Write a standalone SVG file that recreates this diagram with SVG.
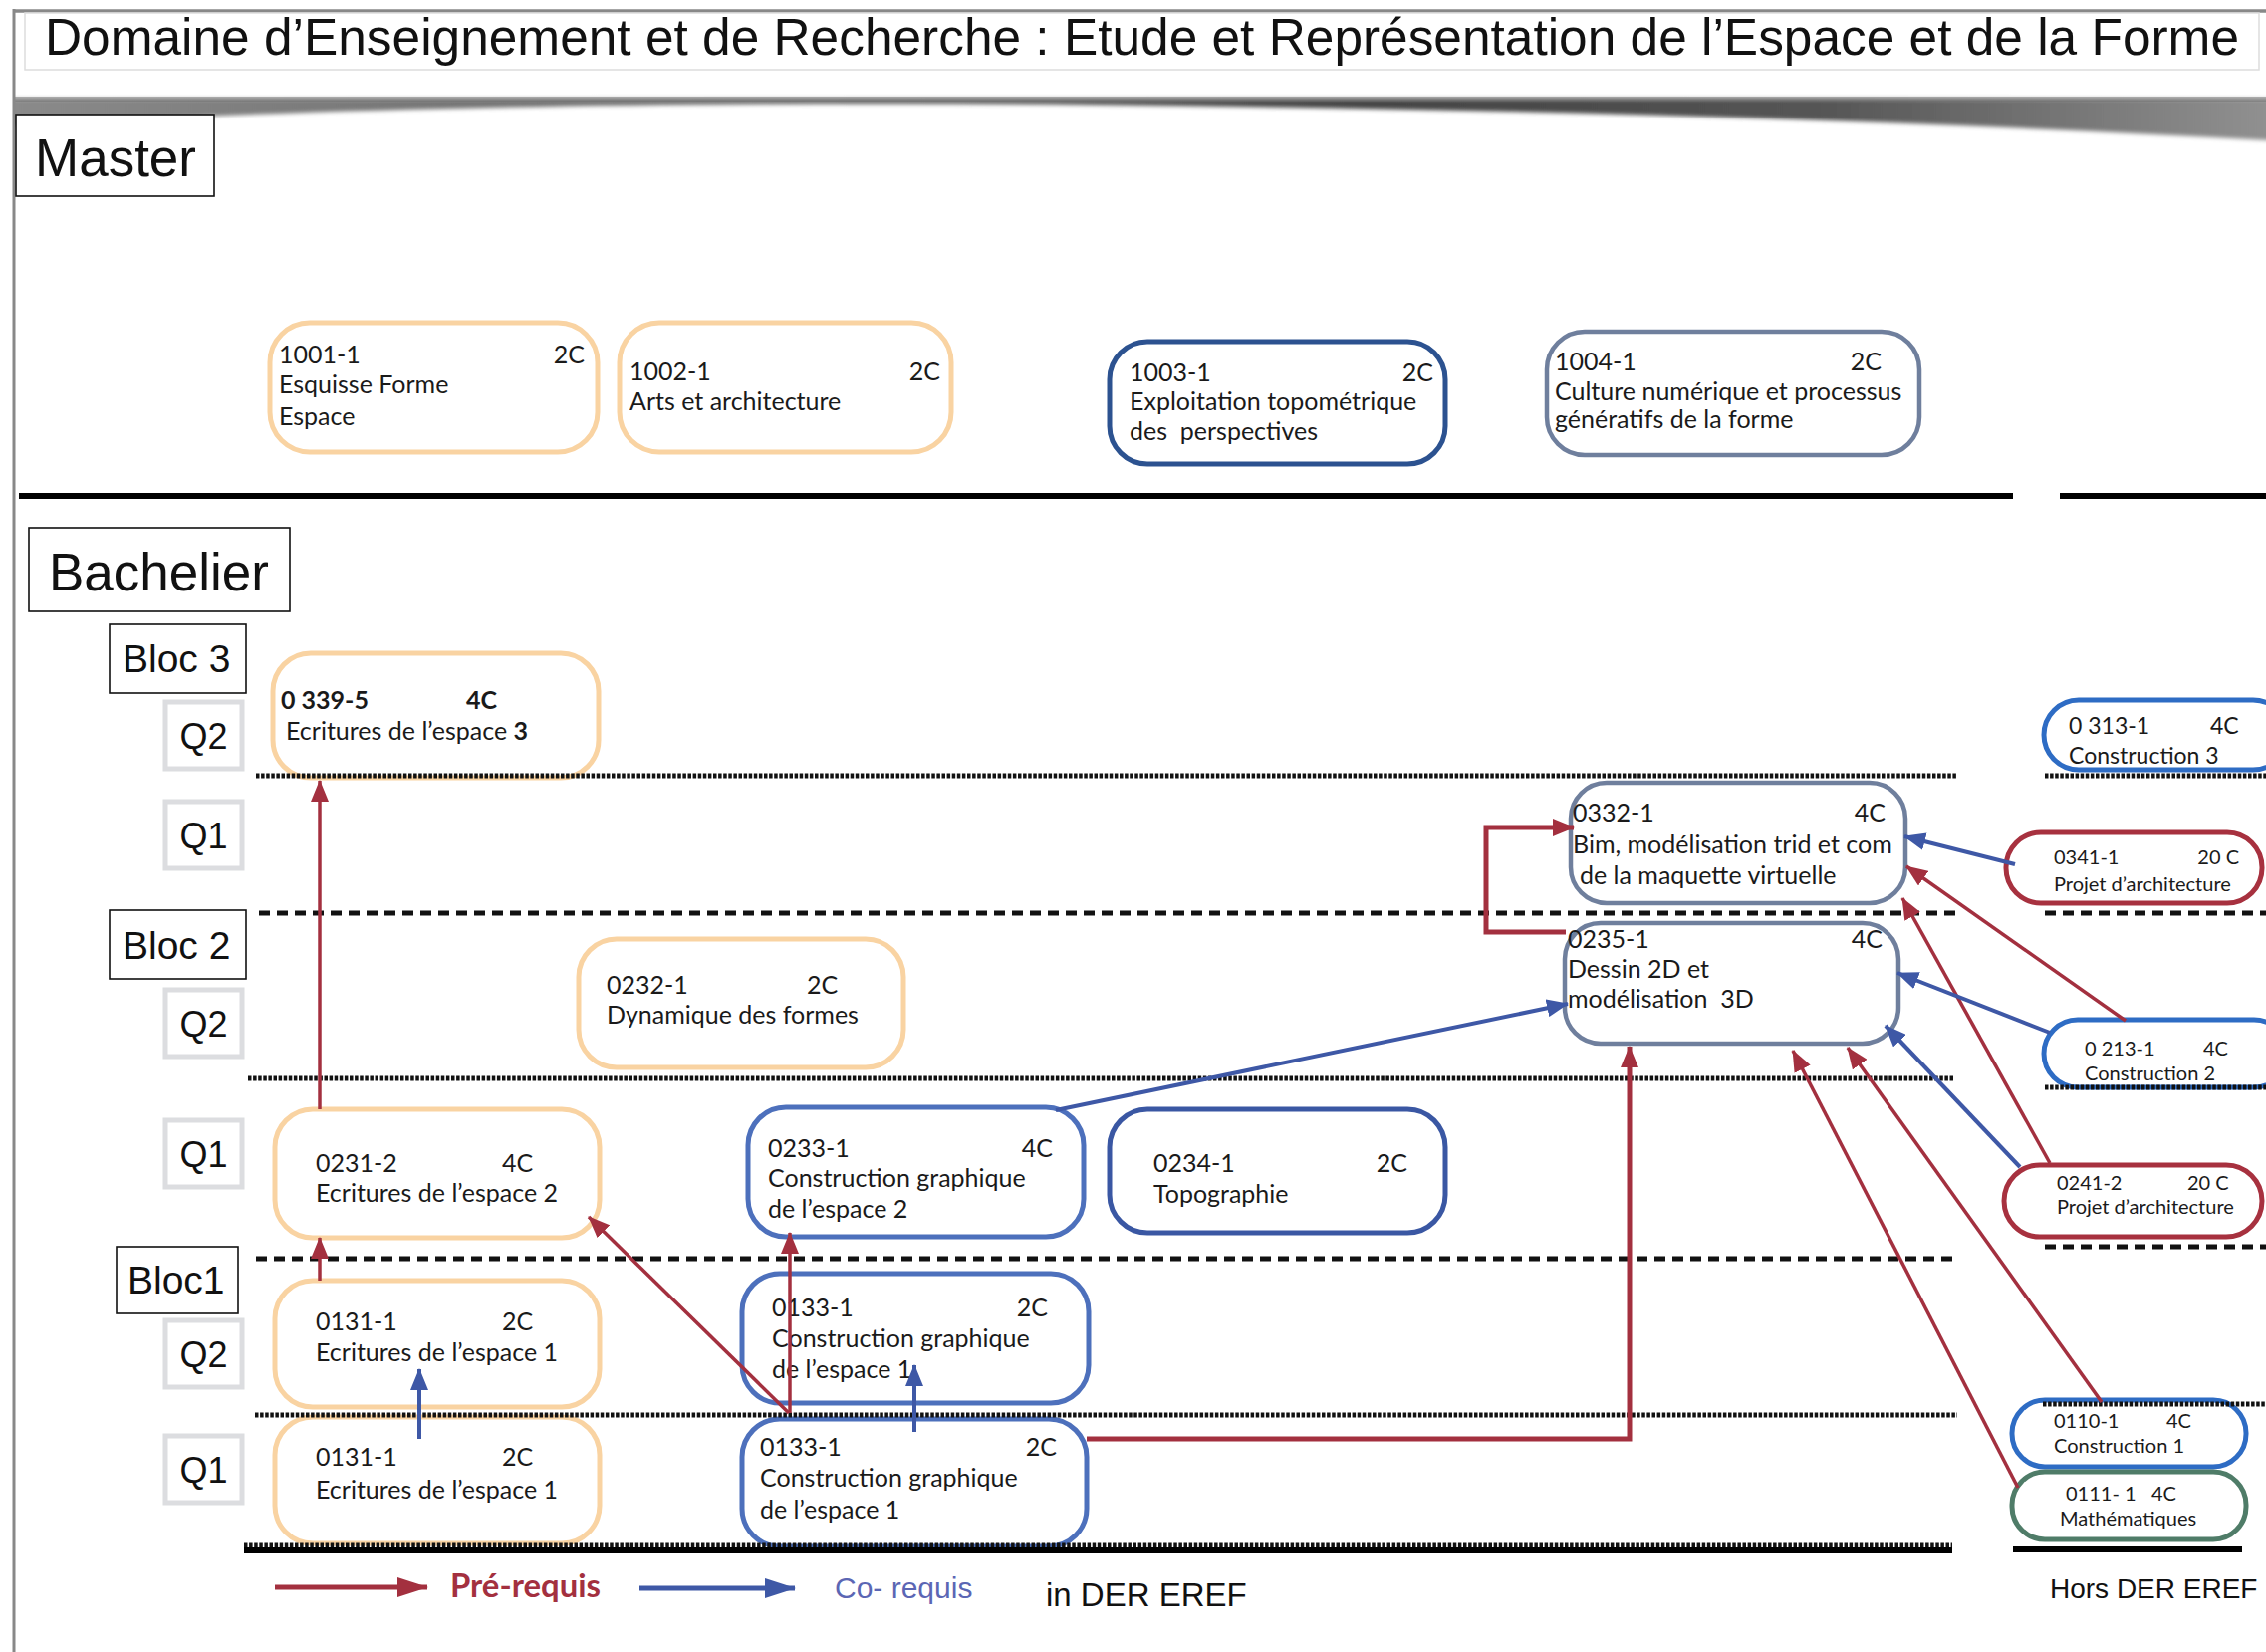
<svg xmlns="http://www.w3.org/2000/svg" width="2275" height="1659" viewBox="0 0 2275 1659">
<style>
.lbl{font-family:"Liberation Sans",Arial,sans-serif;fill:#111}
.nt{font-family:Lato,"Noto Sans",sans-serif;font-size:25px;fill:#1a1a1a}
.sm{font-size:20px}
.md{font-size:23px}
.box{fill:#fff;stroke:#111;stroke-width:1.6}
.qbox{fill:#fff;stroke:#dcdde0;stroke-width:5}
.n{fill:#fff;stroke-width:5}
.or{stroke:#F9D3A2}
.bl{stroke:#4D70BC}
.db{stroke:#2C5290}
.db2{stroke:#3A57A3}
.sl{stroke:#6F7F9D;stroke-width:4.5}
.bb{stroke:#2E6CC4}
.rd{stroke:#A7313F}
.gr{stroke:#4F7C68}
.fine{stroke:#111;stroke-width:5;stroke-dasharray:3.5 1.6;fill:none}
.coarse{stroke:#111;stroke-width:5;stroke-dasharray:11 7;fill:none}
.solid{stroke:#000;stroke-width:6;fill:none}
.pr{stroke:#A3303F;stroke-width:3.5;fill:none;marker-end:url(#ar)}
.prt{stroke:#A3303F;stroke-width:5;fill:none;marker-end:url(#ar)}
.co{stroke:#3E58A6;stroke-width:4;fill:none;marker-end:url(#ab)}
</style>
<defs>
<marker id="ar" markerUnits="userSpaceOnUse" markerWidth="22" markerHeight="18" viewBox="0 0 22 18" refX="21" refY="9" orient="auto"><path d="M0,0 L22,9 L0,18 z" fill="#A3303F"/></marker>
<marker id="ab" markerUnits="userSpaceOnUse" markerWidth="22" markerHeight="18" viewBox="0 0 22 18" refX="21" refY="9" orient="auto"><path d="M0,0 L22,9 L0,18 z" fill="#3E58A6"/></marker>
<marker id="lar" markerUnits="userSpaceOnUse" markerWidth="31" markerHeight="20" viewBox="0 0 31 20" refX="30" refY="10" orient="auto"><path d="M0,0 L31,10 L0,20 z" fill="#A3303F"/></marker>
<marker id="lab" markerUnits="userSpaceOnUse" markerWidth="31" markerHeight="20" viewBox="0 0 31 20" refX="30" refY="10" orient="auto"><path d="M0,0 L31,10 L0,20 z" fill="#3E58A6"/></marker>
<linearGradient id="sh" x1="0" y1="0" x2="1" y2="0">
<stop offset="0" stop-color="#8a8a8a"/>
<stop offset="0.3" stop-color="#6a6a6a"/>
<stop offset="0.6" stop-color="#444"/>
<stop offset="0.8" stop-color="#555"/>
<stop offset="1" stop-color="#909090"/>
</linearGradient>
<filter id="blur" x="-0.01" y="-0.5" width="1.02" height="2"><feGaussianBlur stdDeviation="0 2"/></filter>
</defs>
<rect width="2275" height="1659" fill="#fff"/>

<!-- frame and title -->
<g id="frame">
<path d="M14,99 L2275,99 L2275,141 C1900,120 1500,109 1100,105 C700,101 300,108 14,127 Z" fill="url(#sh)" filter="url(#blur)"/>
<rect x="14" y="97" width="2261" height="5" fill="#666" opacity="0.45"/>
<line x1="14" y1="11" x2="2275" y2="11" stroke="#888" stroke-width="3.5"/>
<line x1="14" y1="9" x2="14" y2="1659" stroke="#888" stroke-width="3"/>
<rect x="25" y="13" width="2243" height="57" fill="#fff" stroke="#ddd" stroke-width="1.5"/>
<text class="lbl" x="45" y="55" font-size="52" textLength="2203" lengthAdjust="spacingAndGlyphs">Domaine d’Enseignement et de Recherche : Etude et Représentation de l’Espace et de la Forme</text>
</g>

<!-- section / row labels -->
<g id="labels">
<rect class="box" x="16" y="115" width="199" height="82"/>
<text class="lbl" x="35" y="177" font-size="53">Master</text>
<rect class="box" x="29" y="530" width="262" height="84"/>
<text class="lbl" x="49" y="593" font-size="53">Bachelier</text>
<rect class="box" x="110" y="627" width="137" height="69"/>
<text class="lbl" x="123" y="675" font-size="39">Bloc 3</text>
<rect class="box" x="110" y="914" width="137" height="69"/>
<text class="lbl" x="123" y="963" font-size="39">Bloc 2</text>
<rect class="box" x="117" y="1252" width="122" height="67"/>
<text class="lbl" x="128" y="1299" font-size="39">Bloc1</text>
<rect class="qbox" x="166" y="705" width="77" height="67"/>
<text class="lbl" x="204.5" y="752" font-size="36" text-anchor="middle">Q2</text>
<rect class="qbox" x="166" y="805" width="77" height="67"/>
<text class="lbl" x="204.5" y="852" font-size="36" text-anchor="middle">Q1</text>
<rect class="qbox" x="166" y="994" width="77" height="67"/>
<text class="lbl" x="204.5" y="1041" font-size="36" text-anchor="middle">Q2</text>
<rect class="qbox" x="166" y="1125" width="77" height="67"/>
<text class="lbl" x="204.5" y="1172" font-size="36" text-anchor="middle">Q1</text>
<rect class="qbox" x="166" y="1326" width="77" height="67"/>
<text class="lbl" x="204.5" y="1373" font-size="36" text-anchor="middle">Q2</text>
<rect class="qbox" x="166" y="1442" width="77" height="67"/>
<text class="lbl" x="204.5" y="1489" font-size="36" text-anchor="middle">Q1</text>
</g>

<!-- Master nodes -->
<g id="n1001"><rect class="n or" x="271" y="324" width="329" height="130" rx="40"/>
<text class="nt" x="280" y="365">1001-1</text><text class="nt" x="587" y="365" text-anchor="end">2C</text>
<text class="nt" x="280" y="395">Esquisse Forme</text><text class="nt" x="280" y="427">Espace</text></g>
<g id="n1002"><rect class="n or" x="622" y="324" width="333" height="130" rx="40"/>
<text class="nt" x="632" y="382">1002-1</text><text class="nt" x="944" y="382" text-anchor="end">2C</text>
<text class="nt" x="632" y="412">Arts et architecture</text></g>
<g id="n1003"><rect class="n db" x="1114" y="343" width="337" height="123" rx="38"/>
<text class="nt" x="1134" y="383">1003-1</text><text class="nt" x="1439" y="383" text-anchor="end">2C</text>
<text class="nt" x="1134" y="412">Exploitation topométrique</text><text class="nt" x="1134" y="442" xml:space="preserve">des  perspectives</text></g>
<g id="n1004"><rect class="n sl" x="1553" y="333" width="374" height="124" rx="38"/>
<text class="nt" x="1561" y="372">1004-1</text><text class="nt" x="1889" y="372" text-anchor="end">2C</text>
<text class="nt" x="1561" y="402">Culture numérique et processus</text><text class="nt" x="1561" y="430">génératifs de la forme</text></g>

<!-- Bachelier nodes -->
<g id="n0339"><rect class="n or" x="274" y="656" width="327" height="125" rx="38"/>
<text class="nt" x="282" y="712" font-weight="bold">0 339-5</text><text class="nt" x="468" y="712" font-weight="bold">4C</text>
<text class="nt" x="287" y="743">Ecritures de l’espace <tspan font-weight="bold">3</tspan></text></g>
<g id="n0232"><rect class="n or" x="581" y="943" width="326" height="129" rx="38"/>
<text class="nt" x="609" y="998">0232-1</text><text class="nt" x="810" y="998">2C</text>
<text class="nt" x="609" y="1028">Dynamique des formes</text></g>
<g id="n0231"><rect class="n or" x="276" y="1114" width="326" height="129" rx="38"/>
<text class="nt" x="317" y="1177">0231-2</text><text class="nt" x="504" y="1177">4C</text>
<text class="nt" x="317" y="1207">Ecritures de l’espace 2</text></g>
<g id="n0233"><rect class="n bl" x="751" y="1112" width="337" height="130" rx="38"/>
<text class="nt" x="771" y="1162">0233-1</text><text class="nt" x="1057" y="1162" text-anchor="end">4C</text>
<text class="nt" x="771" y="1192">Construction graphique</text><text class="nt" x="771" y="1223">de l’espace 2</text></g>
<g id="n0234"><rect class="n db2" x="1114" y="1114" width="337" height="124" rx="38"/>
<text class="nt" x="1158" y="1177">0234-1</text><text class="nt" x="1413" y="1177" text-anchor="end">2C</text>
<text class="nt" x="1158" y="1208">Topographie</text></g>
<g id="n0133b"><rect class="n bl" x="745" y="1279" width="348" height="130" rx="38"/>
<text class="nt" x="775" y="1322">0133-1</text><text class="nt" x="1052" y="1322" text-anchor="end">2C</text>
<text class="nt" x="775" y="1353">Construction graphique</text><text class="nt" x="775" y="1384">de l’espace 1</text></g>
<g id="n0133a"><rect class="n bl" x="745" y="1425" width="346" height="128" rx="38"/>
<text class="nt" x="763" y="1462">0133-1</text><text class="nt" x="1061" y="1462" text-anchor="end">2C</text>
<text class="nt" x="763" y="1493">Construction graphique</text><text class="nt" x="763" y="1525">de l’espace 1</text></g>
<g id="n0131b"><rect class="n or" x="276" y="1286" width="326" height="127" rx="38"/>
<text class="nt" x="317" y="1336">0131-1</text><text class="nt" x="504" y="1336">2C</text>
<text class="nt" x="317" y="1367">Ecritures de l’espace 1</text></g>
<g id="n0131a"><rect class="n or" x="276" y="1423" width="326" height="127" rx="38"/>
<text class="nt" x="317" y="1472">0131-1</text><text class="nt" x="504" y="1472">2C</text>
<text class="nt" x="317" y="1505">Ecritures de l’espace 1</text></g>
<g id="n0332"><rect class="n sl" x="1577" y="786" width="336" height="121" rx="36"/>
<text class="nt" x="1579" y="825">0332-1</text><text class="nt" x="1893" y="825" text-anchor="end">4C</text>
<text class="nt" x="1579" y="857">Bim, modélisation trid et com</text><text class="nt" x="1586" y="888">de la maquette virtuelle</text></g>
<g id="n0235"><rect class="n sl" x="1571" y="927" width="335" height="121" rx="36"/>
<text class="nt" x="1574" y="952">0235-1</text><text class="nt" x="1890" y="952" text-anchor="end">4C</text>
<text class="nt" x="1574" y="982">Dessin 2D et</text><text class="nt" x="1574" y="1012" xml:space="preserve">modélisation  3D</text></g>

<!-- outside DER -->
<g id="n0313"><rect class="n bb" x="2052" y="703" width="245" height="70" rx="35"/>
<text class="nt md" x="2077" y="737">0 313-1</text><text class="nt md" x="2219" y="737">4C</text>
<text class="nt md" x="2077" y="767">Construction 3</text></g>
<g id="n0341"><rect class="n rd" x="2014" y="836" width="257" height="71" rx="35"/>
<text class="nt sm" x="2062" y="868">0341-1</text><text class="nt sm" x="2248" y="868" text-anchor="end">20 C</text>
<text class="nt sm" x="2062" y="895">Projet d’architecture</text></g>
<g id="n0213"><rect class="n bb" x="2052" y="1024" width="245" height="68" rx="34"/>
<text class="nt sm" x="2093" y="1060">0 213-1</text><text class="nt sm" x="2212" y="1060">4C</text>
<text class="nt sm" x="2093" y="1085">Construction 2</text></g>
<g id="n0241"><rect class="n rd" x="2012" y="1170" width="259" height="72" rx="36"/>
<text class="nt sm" x="2065" y="1195">0241-2</text><text class="nt sm" x="2196" y="1195">20 C</text>
<text class="nt sm" x="2065" y="1219">Projet d’architecture</text></g>
<g id="n0110"><rect class="n bb" x="2020" y="1406" width="235" height="67" rx="33"/>
<text class="nt sm" x="2062" y="1434">0110-1</text><text class="nt sm" x="2175" y="1434">4C</text>
<text class="nt sm" x="2062" y="1459">Construction 1</text></g>
<g id="n0111"><rect class="n gr" x="2020" y="1478" width="235" height="68" rx="33"/>
<text class="nt sm" x="2074" y="1507" xml:space="preserve">0111- 1   4C</text>
<text class="nt sm" x="2068" y="1532">Mathématiques</text></g>

<!-- separators -->
<g id="separators">
<line class="solid" x1="19" y1="498" x2="2021" y2="498"/>
<line class="solid" x1="2068" y1="498" x2="2275" y2="498"/>
<line class="fine" x1="257" y1="779" x2="1965" y2="779"/>
<line class="fine" x1="2053" y1="779" x2="2275" y2="779"/>
<line class="coarse" x1="260" y1="917" x2="1965" y2="917"/>
<line class="coarse" x1="2053" y1="917" x2="2275" y2="917"/>
<line class="fine" x1="249" y1="1083" x2="1962" y2="1083"/>
<line class="fine" x1="2053" y1="1092" x2="2275" y2="1092"/>
<line class="coarse" x1="257" y1="1264" x2="1962" y2="1264"/>
<line class="coarse" x1="2053" y1="1252" x2="2275" y2="1252"/>
<line class="fine" x1="256" y1="1421" x2="1965" y2="1421"/>
<line class="fine" x1="2051" y1="1410" x2="2275" y2="1410"/>
<line class="fine" x1="245" y1="1552" x2="1960" y2="1552"/>
<line class="solid" x1="245" y1="1557" x2="1960" y2="1557" stroke-width="5"/>
<line class="solid" x1="2021" y1="1556" x2="2251" y2="1556"/>
</g>

<!-- connectors -->
<g id="connectors">
<path class="pr" d="M321,1114 V784"/>
<path class="pr" d="M321,1286 V1243"/>
<path class="pr" d="M792,1419 L591,1222"/>
<path class="pr" d="M793,1419 V1238"/>
<path class="prt" d="M1091,1445 H1636 V1051"/>
<path class="prt" d="M1572,936 H1492 V831 H1580"/>
<path class="pr" d="M2134,1025 L1914,870"/>
<path class="pr" d="M2058,1168 L1910,902"/>
<path class="pr" d="M2110,1408 L1855,1052"/>
<path class="pr" d="M2026,1494 L1800,1055"/>
<path class="co" d="M421,1445 V1375"/>
<path class="co" d="M918,1438 V1371"/>
<path class="co" d="M1060,1115 L1574,1008"/>
<path class="co" d="M2023,868 L1912,840"/>
<path class="co" d="M2058,1037 L1905,977"/>
<path class="co" d="M2028,1172 L1893,1030"/>
</g>

<!-- legend -->
<g id="legend">
<path d="M276,1594 H429" stroke="#A3303F" stroke-width="5" fill="none" marker-end="url(#lar)"/>
<text x="452" y="1604" font-family="Lato,'Noto Sans',sans-serif" font-size="32" font-weight="bold" fill="#A3303F" textLength="151" lengthAdjust="spacingAndGlyphs">Pré-requis</text>
<path d="M642,1595 H798" stroke="#3E58A6" stroke-width="5" fill="none" marker-end="url(#lab)"/>
<text class="lbl" x="838" y="1605" font-size="30" style="fill:#5B66B4">Co- requis</text>
<text class="lbl" x="1050" y="1613" font-size="33">in DER EREF</text>
<text class="lbl" x="2058" y="1605" font-size="28">Hors DER EREF</text>
</g>
</svg>
